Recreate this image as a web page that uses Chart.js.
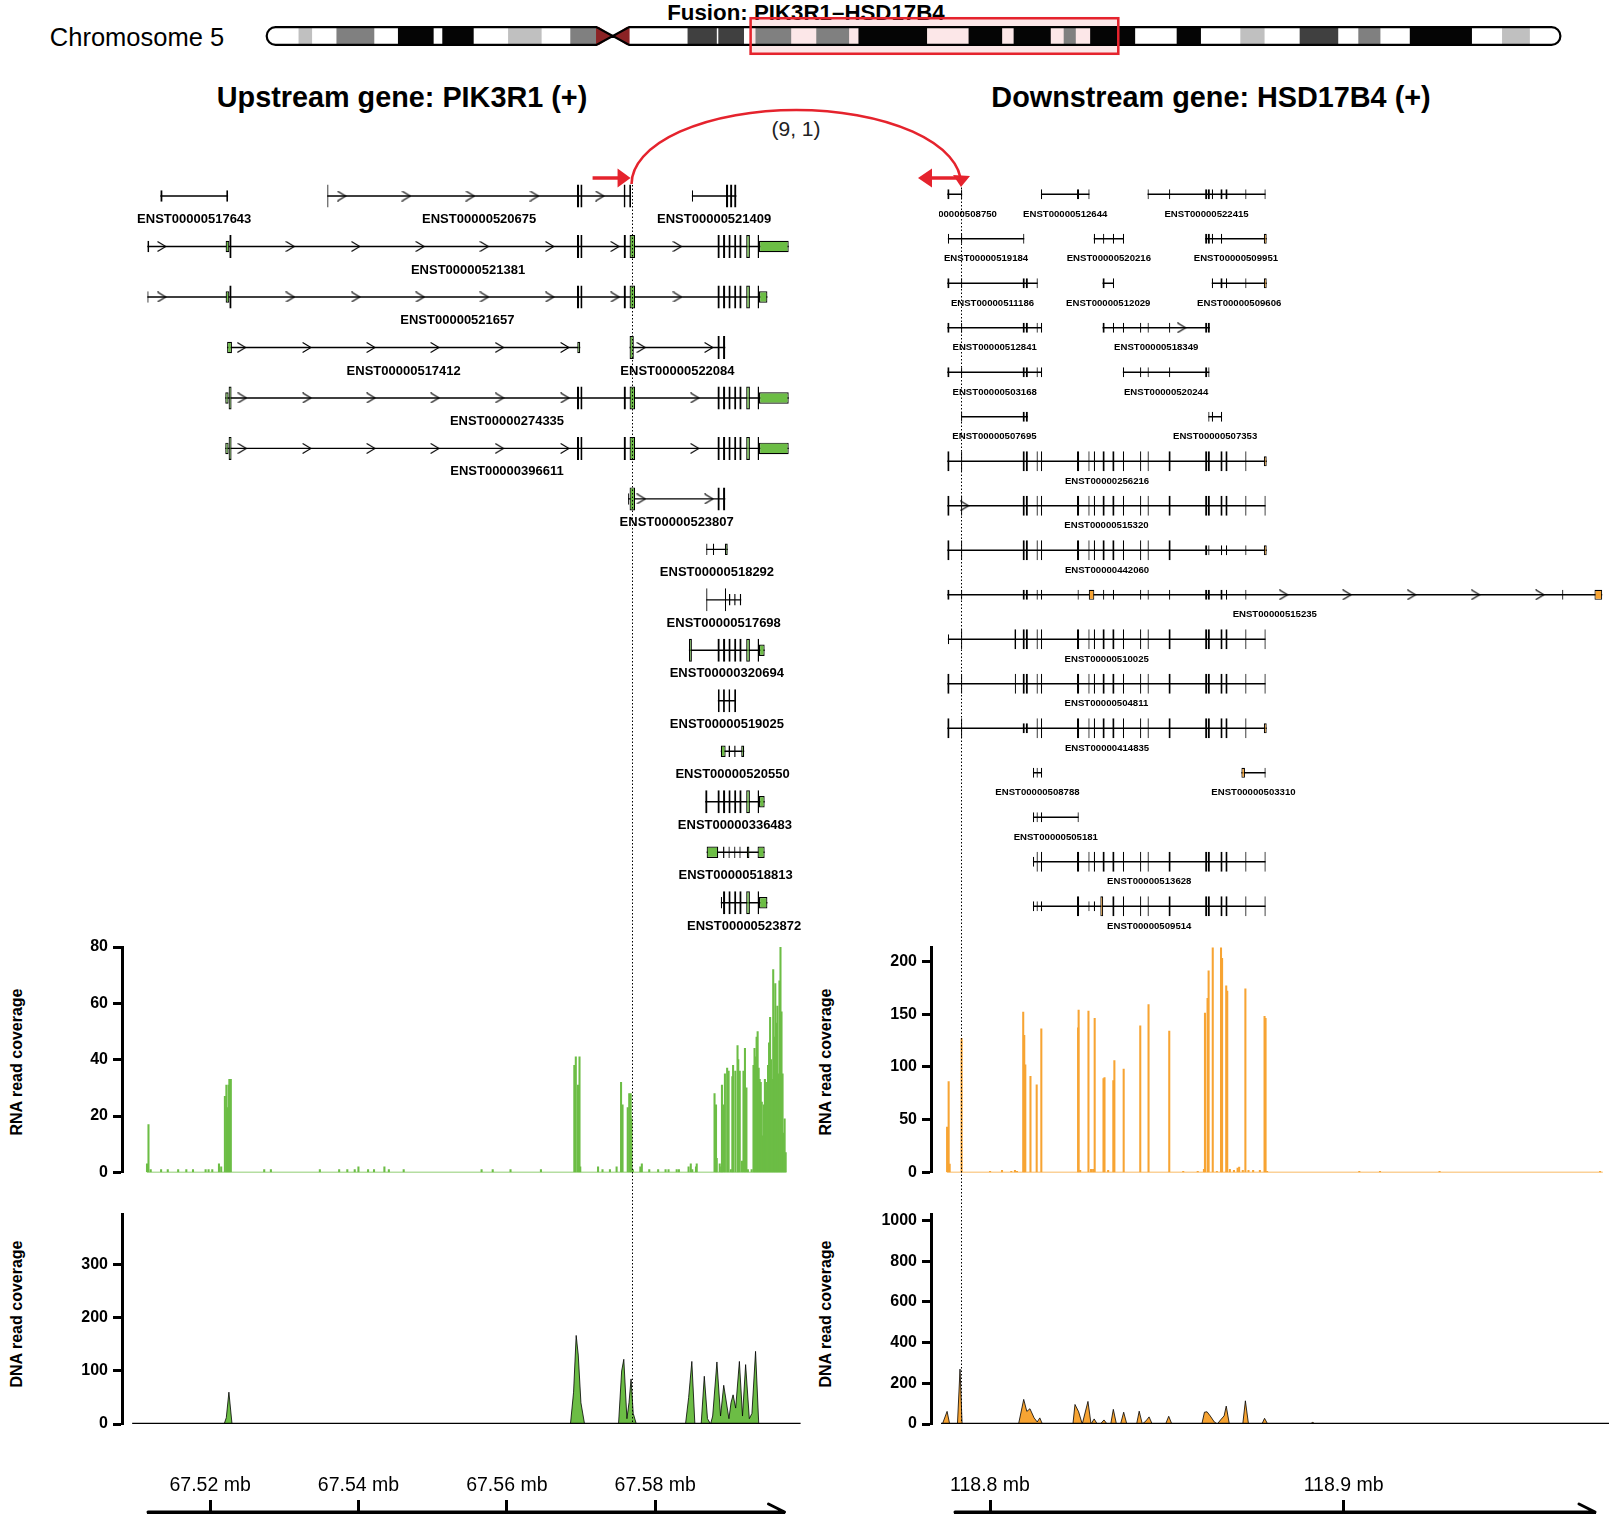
<!DOCTYPE html>
<html>
<head>
<meta charset="utf-8">
<title>Fusion PIK3R1-HSD17B4</title>
<script src="https://cdn.jsdelivr.net/npm/chart.js@4.4.1/dist/chart.umd.min.js"></script>
<style>
    html, body { margin: 0; padding: 0; background: #fff; }
    #page { position: relative; width: 1612px; height: 1518px; overflow: hidden;
            font-family: "Liberation Sans", Arial, Helvetica, sans-serif; color: #000; }
    #page canvas { position: absolute; }
    .t { position: absolute; white-space: nowrap; line-height: 1; transform: translate(-50%, -50%); }
    .b { font-weight: bold; }
    .rot { transform: translate(-50%, -50%) rotate(-90deg); }
</style>
</head>
<body>
<div id="page">
    <div class="t" style="left:137px; top:38px; font-size:25.5px;">Chromosome 5</div>
    <div class="t b" style="left:806px; top:12.5px; font-size:22.3px;">Fusion: PIK3R1–HSD17B4</div>
    <div class="t b" style="left:402px; top:97px; font-size:28.8px;">Upstream gene: PIK3R1 (+)</div>
    <div class="t b" style="left:1211px; top:97px; font-size:28.8px;">Downstream gene: HSD17B4 (+)</div>
    <div class="t" style="left:796px; top:128px; font-size:21px; color:#222;">(9, 1)</div>
    <div class="t b rot" style="left:17px; top:1062px; font-size:16px;">RNA read coverage</div>
    <div class="t b rot" style="left:17px; top:1314px; font-size:16px;">DNA read coverage</div>
    <div class="t b rot" style="left:826px; top:1062px; font-size:16px;">RNA read coverage</div>
    <div class="t b rot" style="left:826px; top:1314px; font-size:16px;">DNA read coverage</div>
</div>
<script>
'use strict';

/* ================================================================
   Données (positions génomiques en kb, chromosome en Mb)
   ================================================================ */

// Idéogramme chr5 (hg19)
var CHR_LEN    = 180.915;
var BAND_START = [0, 4.5, 6.3, 9.8, 15.0, 18.4, 23.3, 24.6, 28.9, 33.8, 38.4, 42.5, 46.1, 48.4, 50.7,
                  58.9, 62.9, 63.2, 66.7, 68.4, 73.3, 76.9, 81.4, 82.8, 92.3, 98.2, 102.8, 104.5, 109.6,
                  111.5, 113.1, 115.2, 121.4, 127.3, 130.6, 136.2, 139.5, 144.5, 149.8, 152.7, 155.7,
                  159.9, 168.5, 172.8, 176.6];
var BAND_END   = [4.5, 6.3, 9.8, 15.0, 18.4, 23.3, 24.6, 28.9, 33.8, 38.4, 42.5, 46.1, 48.4, 50.7, 58.9,
                  62.9, 63.2, 66.7, 68.4, 73.3, 76.9, 81.4, 82.8, 92.3, 98.2, 102.8, 104.5, 109.6, 111.5,
                  113.1, 115.2, 121.4, 127.3, 130.6, 136.2, 139.5, 144.5, 149.8, 152.7, 155.7, 159.9,
                  168.5, 172.8, 176.6, 180.915];
var BAND_STAIN = ['gneg', 'gpos25', 'gneg', 'gpos50', 'gneg', 'gpos100', 'gneg', 'gpos100', 'gneg', 'gpos25',
                  'gneg', 'gpos50', 'acen', 'acen', 'gneg', 'gpos75', 'gneg', 'gpos75', 'gneg', 'gpos50',
                  'gneg', 'gpos50', 'gneg', 'gpos100', 'gneg', 'gpos100', 'gneg', 'gpos100', 'gneg', 'gpos50',
                  'gneg', 'gpos100', 'gneg', 'gpos100', 'gneg', 'gpos25', 'gneg', 'gpos75', 'gneg', 'gpos50',
                  'gneg', 'gpos100', 'gneg', 'gpos25', 'gneg'];
var FUSION_BOX = [67.50, 119.26];

// Points de cassure
var L_BREAK = 67576.82;
var R_BREAK = 118791.80;

// Transcrits du gène amont (PIK3R1)
var L_TX_NAMES = ['ENST00000517643', 'ENST00000520675', 'ENST00000521409', 'ENST00000521381', 'ENST00000521657',
                  'ENST00000517412', 'ENST00000522084', 'ENST00000274335', 'ENST00000396611', 'ENST00000523807',
                  'ENST00000518292', 'ENST00000517698', 'ENST00000320694', 'ENST00000519025', 'ENST00000520550',
                  'ENST00000336483', 'ENST00000518813', 'ENST00000523872'];
var L_TX_ROWS  = [1, 1, 1, 2, 3, 4, 4, 5, 6, 7, 8, 9, 10, 11, 12, 13, 14, 15];
var L_EX_MID   = [[67569.45, 67569.75, 1], [67569.92, 67570.20, 1], [67575.75, 67576.05, 1], [67576.55, 67577.30, 1]];
var L_EX_TAIL  = [[67588.40, 67588.70, 1], [67589.15, 67589.45, 1], [67589.88, 67590.17, 1], [67590.65, 67590.93, 1],
                  [67591.35, 67591.65, 1], [67592.27, 67592.77, 1], [67593.80, 67594.00, 1]];
var L_TX_EXONS = [
    [[67513.30, 67513.60, 0], [67522.18, 67522.43, 0]],
    [[67535.80, 67535.95, 1], [67569.45, 67569.75, 1], [67569.92, 67570.20, 1], [67575.75, 67576.00, 1], [67576.50, 67576.75, 1]],
    [[67584.95, 67585.10, 0], [67589.55, 67589.85, 1], [67590.10, 67590.40, 1], [67590.65, 67590.95, 1]],
    [[67511.55, 67511.80, 0], [67522.10, 67522.60, 0], [67522.60, 67522.90, 1]].concat(L_EX_MID, L_EX_TAIL, [[67594.00, 67598.00, 0]]),
    [[67511.55, 67511.70, 0], [67522.10, 67522.60, 0], [67522.60, 67522.90, 1]].concat(L_EX_MID, L_EX_TAIL, [[67594.00, 67595.13, 0]]),
    [[67522.30, 67522.95, 0], [67569.50, 67569.90, 0]],
    [[67576.55, 67577.12, 1], [67588.40, 67588.70, 1], [67589.15, 67589.45, 1]],
    [[67522.05, 67522.50, 0], [67522.50, 67522.90, 1]].concat(L_EX_MID, L_EX_TAIL, [[67594.00, 67598.00, 0]]),
    [[67522.05, 67522.50, 0], [67522.50, 67522.90, 1]].concat(L_EX_MID, L_EX_TAIL, [[67594.00, 67598.00, 0]]),
    [[67576.35, 67576.50, 0], [67576.55, 67577.30, 1], [67588.40, 67588.70, 1], [67589.15, 67589.45, 1]],
    [[67586.88, 67587.05, 0], [67587.78, 67587.95, 0], [67589.40, 67589.78, 0]],
    [[67586.88, 67587.05, 1], [67589.40, 67589.55, 1], [67589.95, 67590.15, 0], [67590.65, 67590.85, 0], [67591.40, 67591.60, 0]],
    [[67584.55, 67584.95, 1]].concat(L_EX_TAIL, [[67594.00, 67594.76, 0]]),
    [[67588.45, 67588.70, 1], [67589.15, 67589.40, 1], [67589.88, 67590.12, 1], [67590.65, 67590.90, 1]],
    [[67588.85, 67589.50, 0], [67589.88, 67590.10, 0], [67590.65, 67590.85, 0], [67591.60, 67592.00, 0]],
    [[67586.75, 67587.05, 1]].concat(L_EX_TAIL, [[67594.00, 67594.76, 0]]),
    [[67586.94, 67588.50, 0], [67589.15, 67589.35, 0], [67589.88, 67590.05, 0], [67590.65, 67590.82, 0],
     [67591.35, 67591.52, 0], [67592.35, 67592.70, 0], [67593.80, 67594.76, 0]],
    [[67588.85, 67589.00, 0], [67589.15, 67589.45, 1], [67589.88, 67590.17, 1], [67590.65, 67590.93, 1],
     [67591.35, 67591.65, 1], [67592.27, 67592.77, 1], [67593.80, 67594.00, 1], [67594.00, 67595.13, 0]]
];
var L_TX_ARROWS = [
    [],
    [67537.75, 67546.46, 67555.09, 67563.73, 67572.54],
    [],
    [67513.49, 67530.82, 67539.64, 67548.33, 67556.98, 67565.79, 67574.61, 67583.01],
    [67513.49, 67530.82, 67539.64, 67548.33, 67556.98, 67565.79, 67574.61, 67583.01],
    [67524.25, 67533.06, 67541.70, 67550.33, 67559.02, 67567.84],
    [67578.13, 67587.24],
    [67524.35, 67533.06, 67541.70, 67550.33, 67559.02, 67567.84, 67585.35],
    [67524.35, 67533.06, 67541.70, 67550.33, 67559.02, 67567.84, 67585.35],
    [67578.13, 67587.24],
    [], [], [], [], [], [], [], []
];

// Transcrits du gène aval (HSD17B4)
var R_TX_NAMES = ['ENST00000508750', 'ENST00000512644', 'ENST00000522415', 'ENST00000519184', 'ENST00000520216',
                  'ENST00000509951', 'ENST00000511186', 'ENST00000512029', 'ENST00000509606', 'ENST00000512841',
                  'ENST00000518349', 'ENST00000503168', 'ENST00000520244', 'ENST00000507695', 'ENST00000507353',
                  'ENST00000256216', 'ENST00000515320', 'ENST00000442060', 'ENST00000515235', 'ENST00000510025',
                  'ENST00000504811', 'ENST00000414835', 'ENST00000508788', 'ENST00000503310', 'ENST00000505181',
                  'ENST00000513628', 'ENST00000509514'];
var R_TX_ROWS  = [1, 1, 1, 2, 2, 2, 3, 3, 3, 4, 4, 5, 5, 6, 6, 7, 8, 9, 10, 11, 12, 13, 14, 14, 15, 16, 17];
var R_EX_HEAD  = [[118787.94, 118788.54, 1], [118791.82, 118792.12, 1], [118809.23, 118809.83, 1],
                  [118810.11, 118810.71, 1], [118813.17, 118813.47, 1], [118814.41, 118814.71, 1]];
var R_EX_MID   = [[118824.61, 118825.21, 1], [118827.82, 118828.12, 1], [118829.35, 118829.65, 1], [118831.83, 118832.43, 1],
                  [118834.60, 118835.20, 1], [118837.58, 118837.88, 1], [118842.44, 118842.74, 1], [118844.56, 118844.86, 1],
                  [118850.49, 118851.09, 1], [118860.84, 118861.44, 1], [118861.58, 118862.18, 1], [118865.17, 118865.77, 1],
                  [118866.58, 118867.18, 1], [118872.19, 118872.49, 1]];
var R_EX_NC_ROW4 = [[118787.94, 118788.54, 0], [118791.82, 118792.12, 0], [118809.23, 118809.83, 0],
                    [118810.11, 118810.71, 0], [118813.17, 118813.47, 0], [118814.41, 118814.71, 0]];
var R_TX_EXONS = [
    [[118787.94, 118788.54, 0], [118791.82, 118792.12, 0]],
    [[118814.41, 118814.71, 0], [118824.61, 118825.21, 0], [118827.82, 118828.12, 0]],
    [[118844.56, 118844.86, 0], [118850.64, 118850.94, 0], [118860.84, 118861.44, 0], [118861.58, 118862.18, 0],
     [118862.72, 118863.02, 0], [118865.17, 118865.77, 0], [118866.58, 118867.18, 0], [118872.19, 118872.49, 0],
     [118877.62, 118877.92, 0]],
    [[118788.09, 118788.39, 0], [118791.82, 118792.12, 0], [118809.38, 118809.68, 0]],
    [[118829.35, 118829.65, 0], [118831.98, 118832.28, 0], [118834.75, 118835.05, 0], [118837.58, 118837.88, 0]],
    [[118860.84, 118861.44, 0], [118861.58, 118862.18, 0], [118862.72, 118863.02, 0], [118865.32, 118865.62, 0],
     [118877.45, 118878.25, 0]],
    [[118787.94, 118788.54, 0], [118791.82, 118792.12, 0], [118809.23, 118809.83, 0], [118810.11, 118810.71, 0],
     [118813.17, 118813.47, 0]],
    [[118831.83, 118832.43, 0], [118834.75, 118835.05, 0]],
    [[118862.72, 118863.02, 0], [118865.17, 118865.77, 0], [118866.73, 118867.03, 0], [118872.19, 118872.49, 0],
     [118877.45, 118878.25, 0]],
    R_EX_NC_ROW4,
    [[118831.83, 118832.43, 0], [118834.75, 118835.05, 0], [118837.58, 118837.88, 0], [118842.44, 118842.74, 0],
     [118844.56, 118844.86, 0], [118850.64, 118850.94, 0], [118860.84, 118861.44, 0], [118861.58, 118862.18, 0]],
    R_EX_NC_ROW4,
    [[118837.58, 118837.88, 0], [118842.44, 118842.74, 0], [118844.56, 118844.86, 0], [118850.64, 118850.94, 0],
     [118860.84, 118861.44, 0], [118861.73, 118862.03, 0]],
    [[118791.82, 118792.12, 0], [118809.23, 118809.83, 0], [118810.11, 118810.71, 0]],
    [[118861.73, 118862.03, 0], [118862.72, 118863.02, 0], [118865.32, 118865.62, 0]],
    R_EX_HEAD.concat(R_EX_MID, [[118877.45, 118878.25, 0]]),
    R_EX_HEAD.concat(R_EX_MID, [[118877.62, 118877.92, 1]]),
    R_EX_HEAD.concat(R_EX_MID.slice(0, 9), [[118860.84, 118861.44, 0], [118861.73, 118862.03, 0], [118865.32, 118865.62, 0],
                                           [118866.73, 118867.03, 0], [118872.19, 118872.49, 0], [118877.45, 118878.25, 0]]),
    R_EX_NC_ROW4.concat([[118824.76, 118825.06, 0], [118827.94, 118829.50, 0], [118831.98, 118832.28, 0],
     [118834.75, 118835.05, 0], [118842.44, 118842.74, 0], [118844.56, 118844.86, 0], [118850.64, 118850.94, 0],
     [118860.84, 118861.44, 0], [118861.58, 118862.18, 0], [118865.17, 118865.77, 0], [118866.73, 118867.03, 0],
     [118872.19, 118872.49, 0], [118961.81, 118962.11, 0], [118970.95, 118973.13, 0]]),
    [[118788.09, 118788.39, 0], [118791.82, 118792.12, 1], [118806.90, 118807.40, 1]].concat(R_EX_HEAD.slice(2), R_EX_MID, [[118877.62, 118877.92, 1]]),
    [[118787.94, 118788.54, 1], [118791.82, 118792.12, 1], [118807.00, 118807.30, 1]].concat(R_EX_HEAD.slice(2), R_EX_MID, [[118877.62, 118877.92, 1]]),
    [[118787.94, 118788.54, 1], [118791.82, 118792.12, 1], [118809.23, 118809.83, 0], [118810.11, 118810.71, 0],
     [118813.17, 118813.47, 1], [118814.41, 118814.71, 1]].concat(R_EX_MID, [[118877.45, 118878.25, 0]]),
    [[118812.15, 118812.45, 0], [118813.17, 118813.47, 0], [118814.41, 118814.71, 0]],
    [[118871.10, 118872.10, 0], [118877.62, 118877.92, 0]],
    [[118812.15, 118812.45, 0], [118813.17, 118813.47, 0], [118814.41, 118814.71, 0], [118824.76, 118825.06, 0]],
    [[118812.15, 118812.45, 0], [118813.17, 118813.47, 1], [118814.41, 118814.71, 1]].concat(R_EX_MID, [[118877.62, 118877.92, 1]]),
    [[118812.15, 118812.45, 0], [118813.17, 118813.47, 0], [118814.41, 118814.71, 0], [118824.61, 118825.21, 1],
     [118827.82, 118828.12, 0], [118829.35, 118829.65, 0], [118831.20, 118832.00, 1]].concat(R_EX_MID.slice(4), [[118877.62, 118877.92, 1]])
];
var R_TX_ARROWS = [[], [], [], [], [], [], [], [], [], [], [118854.21], [], [], [], [], [],
                   [118792.80], [], [118883.03, 118900.99, 118919.23, 118937.33, 118955.54],
                   [], [], [], [], [], [], [], []];

// Couverture RNA amont
var L_RNA_POS = [67511.5, 67511.7, 67512.0, 67513.4, 67514.3, 67515.7, 67516.8, 67517.7, 67519.4, 67519.8,
                 67520.3, 67521.2, 67521.5, 67522.0, 67522.2, 67522.3, 67522.5, 67522.6, 67522.8, 67527.3,
                 67528.2, 67534.8, 67537.4, 67538.5, 67539.5, 67540.0, 67541.3, 67542.1, 67543.5, 67544.1,
                 67546.1, 67556.6, 67558.1, 67560.5, 67564.6, 67569.1, 67569.3, 67569.6, 67569.8, 67569.9,
                 67572.3, 67572.9, 67573.9, 67574.8, 67575.4, 67575.6, 67576.3, 67576.5, 67576.7, 67576.8,
                 67577.0, 67578.0, 67578.2, 67579.2, 67580.4, 67581.4, 67581.8, 67582.9, 67583.2, 67584.5,
                 67584.8, 67585.0, 67585.5, 67585.6, 67588.0, 67588.2, 67588.3, 67588.7, 67588.9, 67589.0,
                 67589.2, 67589.4, 67589.7, 67589.9, 67590.2, 67590.4, 67590.5, 67590.8, 67591.1, 67591.2,
                 67591.4, 67591.7, 67591.9, 67592.1, 67592.3, 67592.5, 67593.0,
                 67593.25, 67593.39, 67593.53, 67593.67, 67593.81, 67593.95, 67594.09, 67594.23, 67594.37, 67594.51,
                 67594.65, 67594.79, 67594.93, 67595.07, 67595.21, 67595.35, 67595.49, 67595.63, 67595.77, 67595.91,
                 67596.05, 67596.19, 67596.33, 67596.47, 67596.61, 67596.75, 67596.89, 67597.03, 67597.17, 67597.31,
                 67597.45, 67597.59];
var L_RNA_VAL = [3, 17, 1, 1, 1, 1, 1, 1, 1, 1,
                 1, 3, 2, 27, 31, 23, 31, 33, 33, 1,
                 1, 1, 1, 1, 1, 2, 1, 1, 2, 1,
                 1, 1, 1, 1, 1, 38, 41, 31, 41, 2,
                 2, 1, 1, 2, 32, 24, 23, 28, 28, 19,
                 1, 2, 3, 1, 1, 1, 1, 1, 1, 2,
                 3, 1, 2, 3, 28, 24, 5, 3, 2, 31,
                 24, 35, 37, 36, 1, 34, 38, 36, 45, 40,
                 36, 4, 36, 44, 30, 1, 1,
                 38, 44, 41, 48, 50, 37, 33, 32, 25, 13,
                 24, 33, 32, 29, 38, 46, 55, 40, 33, 72,
                 48, 67, 53, 59, 35, 68, 80, 57, 35, 14,
                 19, 7];
var L_RNA_BASE  = [67511.5, 67597.7];
var L_RNA_TICKS = [0, 20, 40, 60, 80];

// Couverture RNA aval
var R_RNA_POS = [118787.86, 118788.30, 118788.59, 118791.96, 118800.02, 118803.39, 118806.02, 118807.05, 118807.63, 118809.39,
                 118809.68, 118809.98, 118811.44, 118813.20, 118814.51, 118824.91, 118825.06, 118825.50, 118827.84, 118828.57,
                 118829.16, 118829.60, 118832.09, 118832.38, 118833.41, 118834.87, 118835.17, 118837.80, 118842.49, 118844.83,
                 118850.69, 118854.64, 118858.74, 118860.50, 118860.79, 118861.52, 118861.82, 118862.99, 118864.16, 118865.33,
                 118865.63, 118866.80, 118867.09, 118867.83, 118868.99, 118870.02, 118870.46, 118871.48, 118872.22, 118873.10,
                 118874.41, 118876.32, 118877.64, 118877.93, 118878.37, 118904.44, 118910.29, 118927.13, 118972.53];
var R_RNA_VAL = [43, 86, 8, 127, 1, 2, 1, 2, 1, 152,
                 130, 102, 91, 83, 136, 137, 154, 2, 153, 3,
                 3, 146, 89, 90, 2, 87, 106, 98, 139, 159,
                 134, 1, 1, 3, 151, 165, 191, 213, 1, 213,
                 203, 177, 172, 3, 2, 4, 5, 2, 174, 2,
                 2, 2, 148, 146, 1, 1, 1, 1, 1];
var R_RNA_BASE  = [118787.84, 118973.30];
var R_RNA_TICKS = [0, 50, 100, 150, 200];

// Couverture DNA amont
var L_DNA_POS = [67521.90, 67522.19, 67522.54, 67522.96,
                 67568.58, 67569.00, 67569.35, 67569.63, 67569.99, 67570.48,
                 67575.06, 67575.48, 67575.77, 67576.19, 67576.47, 67576.75, 67577.04, 67577.46,
                 67584.09, 67584.51, 67584.94, 67585.35,
                 67586.20, 67586.62, 67587.05, 67587.47, 67587.75, 67588.32, 67588.81, 67589.24, 67589.94, 67590.22,
                 67590.50, 67590.85, 67591.35, 67591.77, 67592.19, 67592.69, 67593.04, 67593.53, 67593.96];
var L_DNA_VAL = [0, 12, 60, 0,
                 0, 60, 167, 130, 40, 0,
                 0, 100, 122, 10, 40, 85, 20, 0,
                 0, 50, 118, 0,
                 0, 90, 10, 0, 15, 117, 15, 73, 10, 40,
                 55, 30, 118, 15, 112, 10, 20, 137, 0];
var L_DNA_BASE  = [67509.5, 67599.6];
var L_DNA_TICKS = [0, 100, 200, 300];

// Couverture DNA aval
var R_DNA_POS = [118786.54, 118787.86, 118788.59, 118790.79, 118791.52, 118792.11,
                 118808.07, 118809.53, 118810.41, 118811.29, 118812.47, 118813.35, 118814.08, 118814.81,
                 118823.45, 118824.03, 118825.06, 118826.08, 118827.70, 118828.57, 118829.45, 118830.33, 118831.21,
                 118832.23, 118833.11, 118834.14, 118834.87, 118835.75, 118836.92, 118837.80, 118838.68,
                 118841.46, 118842.19, 118843.07, 118844.10, 118844.98, 118845.86,
                 118849.66, 118850.54, 118851.42,
                 118859.91, 118860.64, 118861.38, 118862.26, 118863.43, 118864.31, 118865.19, 118866.21, 118866.80, 118867.68,
                 118871.48, 118872.22, 118873.10, 118876.90, 118877.64, 118878.52, 118890.52, 118891.26, 118891.99];
var R_DNA_VAL = [0, 62, 0, 0, 270, 0,
                 0, 121, 62, 75, 30, 10, 30, 0,
                 0, 96, 60, 0, 111, 0, 25, 0, 0,
                 20, 0, 0, 72, 0, 0, 58, 0,
                 0, 63, 0, 15, 35, 0,
                 0, 38, 0,
                 0, 58, 60, 40, 10, 0, 20, 40, 88, 0,
                 0, 114, 0, 0, 28, 0, 0, 8, 0];
var R_DNA_BASE  = [118786.14, 118975.05];
var R_DNA_TICKS = [0, 200, 400, 600, 800, 1000];

// Axes génomiques
var L_AXIS_TICKS  = [67520, 67540, 67560, 67580];
var L_AXIS_LABELS = ['67.52 mb', '67.54 mb', '67.56 mb', '67.58 mb'];
var R_AXIS_TICKS  = [118800, 118900];
var R_AXIS_LABELS = ['118.8 mb', '118.9 mb'];

/* ================================================================
   Styles
   ================================================================ */
var GREEN  = '#6cbd45';
var ORANGE = '#f7a433';
var RED    = '#e5232d';
// gneg transparent : le fond rosé du cadre de fusion apparaît dessous
var STAIN_COLOR = { gneg: 'rgba(255,255,255,0)', gpos25: '#c0c0c0', gpos50: '#808080', gpos75: '#404040',
                    gpos100: '#050505', acen: '#8b2325' };

Chart.defaults.font.family = '"Liberation Sans", Arial, Helvetica, sans-serif';
Chart.defaults.color = '#000';

var PAGE = document.getElementById('page');

function mk(left, top, w, h) {
    var c = document.createElement('canvas');
    c.width = w; c.height = h;
    c.style.left = left + 'px'; c.style.top = top + 'px';
    c.style.width = w + 'px'; c.style.height = h + 'px';
    PAGE.appendChild(c);
    return c;
}

function baseOptions(extra) {
    var o = {
        responsive: false, animation: false, devicePixelRatio: 1, events: [],
        plugins: { legend: { display: false }, tooltip: { enabled: false } }
    };
    Object.keys(extra).forEach(function (k) { o[k] = extra[k]; });
    o.layout.autoPadding = false;
    return o;
}

/* ================================================================
   Idéogramme
   ================================================================ */
var cenIdx = BAND_STAIN.map(function (s, i) { return s === 'acen' ? i : -1; })
                       .filter(function (i) { return i >= 0; });

var ideoOutline = {
    id: 'ideoOutline',
    afterDatasetDraw: function (chart, args) {
        if (args.index !== 0) return;
        var ctx = chart.ctx, xs = chart.scales.x;
        var yc = chart.scales.y.getPixelForValue(0);
        var h = 17.7, top = yc - h / 2, bot = yc + h / 2, r = h / 2;
        var x0 = xs.getPixelForValue(0), x1 = xs.getPixelForValue(CHR_LEN);
        var xa = xs.getPixelForValue(BAND_START[cenIdx[0]]);
        var xc = xs.getPixelForValue(BAND_END[cenIdx[0]]);
        var xb = xs.getPixelForValue(BAND_END[cenIdx[cenIdx.length - 1]]);
        ctx.save();
        ctx.fillStyle = '#fff';
        ctx.beginPath(); ctx.moveTo(xa, top - 2); ctx.lineTo(xb, top - 2); ctx.lineTo(xc, yc); ctx.closePath(); ctx.fill();
        ctx.beginPath(); ctx.moveTo(xa, bot + 2); ctx.lineTo(xb, bot + 2); ctx.lineTo(xc, yc); ctx.closePath(); ctx.fill();
        ctx.beginPath();
        ctx.moveTo(xa, top); ctx.lineTo(x0 + r, top);
        ctx.arc(x0 + r, yc, r, -Math.PI / 2, Math.PI / 2, true);
        ctx.lineTo(xa, bot); ctx.lineTo(xc, yc); ctx.closePath();
        ctx.moveTo(xb, top); ctx.lineTo(x1 - r, top);
        ctx.arc(x1 - r, yc, r, -Math.PI / 2, Math.PI / 2, false);
        ctx.lineTo(xb, bot); ctx.lineTo(xc, yc); ctx.closePath();
        ctx.lineWidth = 2.2; ctx.strokeStyle = '#000';
        ctx.stroke();
        ctx.restore();
    },
    afterDatasetsDraw: function (chart) {
        /* contour du cadre de la région de fusion */
        var ctx = chart.ctx, xs = chart.scales.x;
        var yc = chart.scales.y.getPixelForValue(0);
        var xa = xs.getPixelForValue(FUSION_BOX[0]), xb = xs.getPixelForValue(FUSION_BOX[1]);
        ctx.save();
        ctx.strokeStyle = RED; ctx.lineWidth = 2.5;
        ctx.strokeRect(xa + 1.25, yc - 19 + 1.25, xb - xa - 2.5, 38 - 2.5);
        ctx.restore();
    }
};

new Chart(mk(0, 0, 1612, 72), {
    type: 'bar',
    data: {
        labels: ['chr5'],
        datasets: [{
            data: BAND_START.map(function (s, i) { return { x: [s, BAND_END[i]], y: 'chr5' }; }),
            backgroundColor: BAND_STAIN.map(function (s) { return STAIN_COLOR[s]; }),
            borderWidth: 0, barThickness: 17.7, grouped: false, order: 1
        }, {
            data: [{ x: FUSION_BOX, y: 'chr5' }],
            backgroundColor: 'rgba(232, 32, 48, 0.11)', borderWidth: 0,
            barThickness: 38, grouped: false, order: 2
        }]
    },
    options: baseOptions({
        indexAxis: 'y',
        layout: { padding: { left: 266.7, right: 51.6, top: 0, bottom: 0 } },
        scales: {
            x: { type: 'linear', min: 0, max: CHR_LEN, display: false },
            y: { display: false }
        }
    }),
    plugins: [ideoOutline]
});

/* ================================================================
   Transcrits
   ================================================================ */
function chevron(w, h) {
    var c = document.createElement('canvas');
    c.width = w; c.height = h;
    var g = c.getContext('2d');
    g.strokeStyle = '#000'; g.lineWidth = 1.2;
    g.beginPath(); g.moveTo(0.6, 0.6); g.lineTo(w - 1, h / 2); g.lineTo(0.6, h - 0.6); g.stroke();
    return c;
}

function transcriptChart(cv, cfg) {
    var introns = [], chev = [], tallEx = [], shortEx = [], spans = [];
    cfg.names.forEach(function (name, i) {
        var ex = cfg.exons[i], row = cfg.rows[i];
        var s = Math.min.apply(null, ex.map(function (e) { return e[0]; }));
        var e = Math.max.apply(null, ex.map(function (e) { return e[1]; }));
        spans.push([s, e]);
        introns.push({ x: s, y: row }, { x: e, y: row }, { x: e, y: null });
        ex.forEach(function (x) { (x[2] ? tallEx : shortEx).push({ x: [x[0], x[1]], y: row }); });
        cfg.arrows[i].forEach(function (a) { chev.push({ x: a, y: row }); });
    });

    var labels = {
        id: 'txLabels',
        afterDatasetsDraw: function (chart) {
            var ctx = chart.ctx;
            ctx.save();
            ctx.font = cfg.labelFont;
            ctx.fillStyle = '#000';
            ctx.textAlign = 'center';
            ctx.textBaseline = 'middle';
            cfg.names.forEach(function (name, i) {
                var cx = chart.scales.x.getPixelForValue((spans[i][0] + spans[i][1]) / 2);
                var cy = chart.scales.y.getPixelForValue(cfg.rows[i]) + cfg.labelDy;
                ctx.fillText(name, cx, cy);
            });
            ctx.restore();
        }
    };

    var exonStyle = {
        type: 'bar', indexAxis: 'y', grouped: false, backgroundColor: cfg.fill,
        borderColor: '#000', borderWidth: cfg.border, borderSkipped: false,
        inflateAmount: 0, minBarLength: 1.2
    };
    return new Chart(cv, {
        type: 'bar',
        data: {
            datasets: [
                { type: 'line', data: introns, borderColor: '#000', borderWidth: 1.4,
                  pointRadius: 0, spanGaps: false, order: 3 },
                { type: 'scatter', data: chev, pointStyle: chevron(10, 11), pointRadius: 4, order: 2 },
                Object.assign({ data: shortEx, barThickness: cfg.short, order: 1 }, exonStyle),
                Object.assign({ data: tallEx, barThickness: cfg.tall, order: 0 }, exonStyle)
            ]
        },
        options: baseOptions({
            layout: { padding: cfg.pad },
            scales: {
                x: { type: 'linear', min: cfg.xMin, max: cfg.xMax, offset: false, display: false },
                y: { type: 'linear', min: cfg.yMin, max: cfg.yMax, reverse: true, offset: false, display: false }
            }
        }),
        plugins: [labels]
    });
}

var LTX = { left: 100, top: 179 };
var RTX = { left: 939, top: 176 };

var txL = transcriptChart(mk(LTX.left, LTX.top, 720, 764), {
    names: L_TX_NAMES, rows: L_TX_ROWS, exons: L_TX_EXONS, arrows: L_TX_ARROWS,
    xMin: 67511.5, xMax: 67598.04, yMin: 0.663, yMax: 15.798,
    pad: { left: 47, right: 31, top: 0, bottom: 0 },
    fill: GREEN, tall: 23, short: 11.5, border: 1.2,
    labelFont: 'bold 13px "Liberation Sans", Arial, sans-serif', labelDy: 23.5
});

var txR = transcriptChart(mk(RTX.left, RTX.top, 673, 757), {
    names: R_TX_NAMES, rows: R_TX_ROWS, exons: R_TX_EXONS, arrows: R_TX_ARROWS,
    xMin: 118787.84, xMax: 118974.49, yMin: 0.589, yMax: 17.6,
    pad: { left: 8, right: 5, top: 0, bottom: 0 },
    fill: ORANGE, tall: 20, short: 10, border: 1.1,
    labelFont: 'bold 9.6px "Liberation Sans", Arial, sans-serif', labelDy: 20
});

/* ================================================================
   Couvertures RNA / DNA
   ================================================================ */
function coverageY(max, ticks, axisWidth) {
    return {
        type: 'linear', min: 0, max: max,
        afterBuildTicks: function (s) { s.ticks = ticks.map(function (v) { return { value: v }; }); },
        afterFit: function (s) { s.width = axisWidth; },
        border: { display: true, color: '#000', width: 3 },
        grid: { drawOnChartArea: false, drawTicks: true, tickLength: 9, tickWidth: 3, tickColor: '#000' },
        ticks: { color: '#000', padding: 5, font: { size: 16, weight: 'bold' },
                 callback: function (v) { return String(v); } }
    };
}

function rnaChart(cv, pos, val, base, color, xMin, xMax, yMax, ticks, axisWidth) {
    return new Chart(cv, {
        type: 'bar',
        data: {
            datasets: [
                { type: 'line', data: base.map(function (x) { return { x: x, y: 0 }; }),
                  borderColor: color, borderWidth: 1.5, pointRadius: 0, order: 1 },
                { data: pos.map(function (x, i) { return { x: x, y: val[i] }; }),
                  backgroundColor: color, barThickness: 1.4, grouped: false, order: 0 }
            ]
        },
        options: baseOptions({
            layout: { padding: { top: 17, bottom: 10.3, left: 0, right: 0 } },
            scales: {
                x: { type: 'linear', min: xMin, max: xMax, offset: false, display: false },
                y: coverageY(yMax, ticks, axisWidth)
            }
        })
    });
}

function dnaChart(cv, pos, val, base, color, xMin, xMax, yMax, ticks, axisWidth) {
    return new Chart(cv, {
        type: 'line',
        data: {
            datasets: [
                { data: base.map(function (x) { return { x: x, y: 0 }; }),
                  borderColor: '#000', borderWidth: 2.5, pointRadius: 0, order: 0 },
                { data: pos.map(function (x, i) { return { x: x, y: val[i] }; }),
                  fill: 'origin', backgroundColor: color, borderColor: '#000', borderWidth: 0.8,
                  pointRadius: 0, tension: 0, order: 1 }
            ]
        },
        options: baseOptions({
            layout: { padding: { top: 19, bottom: 16, left: 0, right: 0 } },
            scales: {
                x: { type: 'linear', min: xMin, max: xMax, display: false },
                y: coverageY(yMax, ticks, axisWidth)
            }
        })
    });
}

var RNA_TOP = 930, DNA_TOP = 1195;
rnaChart(mk(0, RNA_TOP, 802, 257), L_RNA_POS, L_RNA_VAL, L_RNA_BASE, GREEN,
         67508.13, 67599.79, 80, L_RNA_TICKS, 122);
rnaChart(mk(800, RNA_TOP, 812, 257), R_RNA_POS, R_RNA_VAL, R_RNA_BASE, ORANGE,
         118783.31, 118975.90, 213.7, R_RNA_TICKS, 131);
var dnaL = dnaChart(mk(0, DNA_TOP, 802, 245), L_DNA_POS, L_DNA_VAL, L_DNA_BASE, GREEN,
         67508.13, 67599.79, 396, L_DNA_TICKS, 122);
dnaChart(mk(800, DNA_TOP, 812, 245), R_DNA_POS, R_DNA_VAL, R_DNA_BASE, ORANGE,
         118783.31, 118975.90, 1032, R_DNA_TICKS, 131);

/* ================================================================
   Axes génomiques (bas)
   ================================================================ */
var axisArrow = {
    id: 'axisArrow',
    afterDraw: function (chart) {
        var a = chart.chartArea, ctx = chart.ctx;
        ctx.save();
        ctx.strokeStyle = '#000'; ctx.lineWidth = 3; ctx.lineCap = 'round';
        ctx.beginPath(); ctx.moveTo(a.left, a.top); ctx.lineTo(a.right, a.top);
        ctx.moveTo(a.right, a.top); ctx.lineTo(a.right - 16, a.top - 8);
        ctx.stroke();
        ctx.restore();
    }
};

function genomeAxis(cv, pad, xMin, xMax, ticks, labels) {
    return new Chart(cv, {
        type: 'line',
        data: { datasets: [] },
        options: baseOptions({
            layout: { padding: pad },
            scales: {
                x: {
                    type: 'linear', position: 'top', min: xMin, max: xMax,
                    afterBuildTicks: function (s) { s.ticks = ticks.map(function (v) { return { value: v }; }); },
                    afterFit: function (s) { s.height = 42; },
                    border: { display: true, color: '#000', width: 3 },
                    grid: { drawOnChartArea: false, drawTicks: true, tickLength: 12, tickWidth: 3, tickColor: '#000' },
                    ticks: { autoSkip: false, maxRotation: 0, padding: 3, color: '#000', font: { size: 19.5 },
                             callback: function (v, i) { return labels[i]; } }
                },
                y: { display: false }
            }
        }),
        plugins: [axisArrow]
    });
}

genomeAxis(mk(100, 1470, 720, 48), { left: 48, right: 35.5, top: 0, bottom: 0 },
           67511.63, 67597.43, L_AXIS_TICKS, L_AXIS_LABELS);
genomeAxis(mk(939, 1470, 673, 48), { left: 16, right: 17, top: 0, bottom: 0 },
           118790.10, 118971.09, R_AXIS_TICKS, R_AXIS_LABELS);

/* ================================================================
   Arc de fusion, flèches et lignes de cassure
   ================================================================ */
(function drawOverlay() {
    var c = mk(0, 0, 1612, 1518);
    c.style.pointerEvents = 'none';
    var ctx = c.getContext('2d');
    var lbx = LTX.left + txL.scales.x.getPixelForValue(L_BREAK);
    var rbx = RTX.left + txR.scales.x.getPixelForValue(R_BREAK);
    var yBottom = DNA_TOP + dnaL.chartArea.bottom;

    ctx.save();
    ctx.setLineDash([1.5, 2]);
    ctx.lineWidth = 1; ctx.strokeStyle = '#000';
    [[lbx, 185], [rbx, 177]].forEach(function (p) {
        var x = Math.round(p[0]) + 0.5;
        ctx.beginPath(); ctx.moveTo(x, p[1]); ctx.lineTo(x, yBottom); ctx.stroke();
    });
    ctx.restore();

    ctx.strokeStyle = RED; ctx.fillStyle = RED;
    ctx.lineWidth = 2.6;
    ctx.beginPath();
    ctx.ellipse((lbx + rbx) / 2, 184, (rbx - lbx) / 2, 74, 0, Math.PI, Math.PI * 2);
    ctx.stroke();
    ctx.beginPath(); ctx.moveTo(rbx - 8, 175); ctx.lineTo(rbx + 9, 176); ctx.lineTo(rbx, 187); ctx.closePath(); ctx.fill();

    ctx.lineWidth = 3.5;
    ctx.beginPath(); ctx.moveTo(lbx - 39, 178); ctx.lineTo(lbx - 12, 178); ctx.stroke();
    ctx.beginPath(); ctx.moveTo(lbx - 1, 178); ctx.lineTo(lbx - 14, 168.5); ctx.lineTo(lbx - 14, 187.5); ctx.closePath(); ctx.fill();

    ctx.beginPath(); ctx.moveTo(rbx + 2, 178); ctx.lineTo(rbx - 30, 178); ctx.stroke();
    ctx.beginPath(); ctx.moveTo(rbx - 43, 178); ctx.lineTo(rbx - 29, 168.5); ctx.lineTo(rbx - 29, 187.5); ctx.closePath(); ctx.fill();
})();
</script>
</body>
</html>
